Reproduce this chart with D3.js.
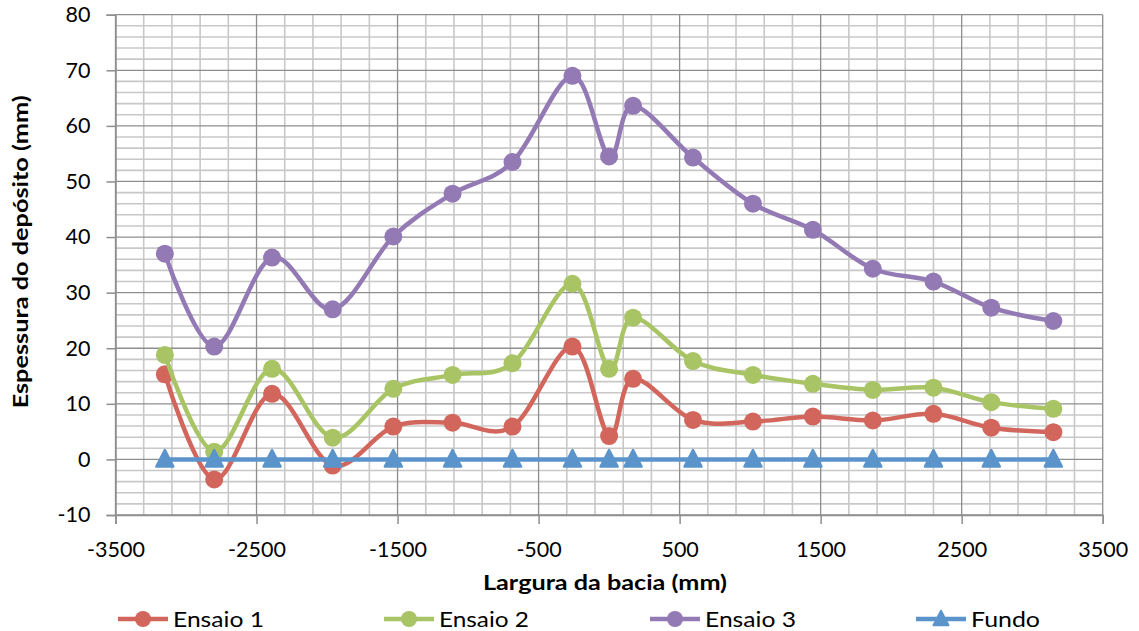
<!DOCTYPE html>
<html>
<head>
<meta charset="utf-8">
<script src="https://cdn.jsdelivr.net/npm/d3@7"></script>
<style>
  html, body { margin: 0; padding: 0; background: #fff; }
  svg { display: block; font-family: Lato, "Liberation Sans", sans-serif; }
</style>
</head>
<body>
<svg id="chart" width="1139" height="631"></svg>
<script>
// Horizontal positions across the basin (mm)
const positions = [-3150, -2800, -2390, -1960, -1530, -1110, -685, -260, 0, 170, 595, 1020, 1445, 1870, 2300, 2710, 3150];

// Deposit thickness per test (mm)
const ensaio1 = [15.3, -3.6, 11.8, -1.1, 5.9, 6.6, 5.9, 20.3, 4.2, 14.5, 7.1, 6.8, 7.7, 7.0, 8.2, 5.7, 4.9];
const ensaio2 = [18.8, 1.4, 16.3, 3.9, 12.7, 15.2, 17.3, 31.6, 16.3, 25.5, 17.7, 15.2, 13.6, 12.5, 12.9, 10.3, 9.1];
const ensaio3 = [37.0, 20.3, 36.3, 27.0, 40.1, 47.8, 53.5, 69.0, 54.5, 63.6, 54.3, 46.0, 41.3, 34.3, 32.0, 27.3, 24.9];
const fundo   = [0, 0, 0, 0, 0, 0, 0, 0, 0, 0, 0, 0, 0, 0, 0, 0, 0];

const seriesNames = ["Ensaio 1", "Ensaio 2", "Ensaio 3", "Fundo"];
const seriesColors = ["#D2665C", "#A8C464", "#937AB5", "#5B94CB"];
const seriesMarkers = ["circle", "circle", "circle", "triangle"];
const seriesValues = [ensaio1, ensaio2, ensaio3, fundo];

const xTicks = [-3500, -2500, -1500, -500, 500, 1500, 2500, 3500];
const yTicks = [-10, 0, 10, 20, 30, 40, 50, 60, 70, 80];

const xTitle = "Largura da bacia (mm)";
const yTitle = "Espessura do depósito (mm)";

const svg = d3.select("#chart");
const plot = { left: 115.5, right: 1102.7, top: 14.7, bottom: 515 };

const x = d3.scaleLinear().domain([-3500, 3500]).range([plot.left, plot.right]);
const y = d3.scaleLinear().domain([-10, 80]).range([plot.bottom, plot.top]);

// Minor grid
const g = svg.append("g");
g.selectAll("line.vminor")
  .data(d3.range(-3500, 3501, 200).filter(v => (v + 3500) % 1000 !== 0))
  .join("line")
  .attr("x1", d => x(d)).attr("x2", d => x(d))
  .attr("y1", plot.top).attr("y2", plot.bottom)
  .attr("stroke", "#c8c8c8").attr("stroke-width", 1.6);
g.selectAll("line.hminor")
  .data(d3.range(-10, 81, 2).filter(v => v % 10 !== 0))
  .join("line")
  .attr("x1", plot.left).attr("x2", plot.right)
  .attr("y1", d => y(d)).attr("y2", d => y(d))
  .attr("stroke", "#c8c8c8").attr("stroke-width", 1.6);

// Major grid
g.selectAll("line.vmajor")
  .data(xTicks)
  .join("line")
  .attr("x1", d => x(d)).attr("x2", d => x(d))
  .attr("y1", plot.top).attr("y2", plot.bottom)
  .attr("stroke", "#8e8e8e").attr("stroke-width", 1.3);
g.selectAll("line.hmajor")
  .data(yTicks)
  .join("line")
  .attr("x1", plot.left).attr("x2", plot.right)
  .attr("y1", d => y(d)).attr("y2", d => y(d))
  .attr("stroke", "#8e8e8e").attr("stroke-width", 1.3);

// Axes (plain hyphen for negative numbers)
const fmt = d => String(d);
const yAxis = d3.axisLeft(y).tickValues(yTicks).tickSize(9).tickPadding(16).tickFormat(fmt);
const xAxis = d3.axisBottom(x).tickValues(xTicks).tickSize(9).tickPadding(18).tickFormat(fmt);

const ya = svg.append("g").attr("transform", `translate(${plot.left},0)`).call(yAxis);
const xa = svg.append("g").attr("transform", `translate(0,${plot.bottom})`).call(xAxis);
[ya, xa].forEach(a => {
  a.select(".domain").attr("stroke", "#8e8e8e").attr("stroke-width", 1.5);
  a.selectAll(".tick line").attr("stroke", "#8e8e8e").attr("stroke-width", 1.5);
  a.selectAll(".tick text").attr("fill", "#000").attr("font-size", 21.5)
    .attr("font-family", "Lato, 'Liberation Sans', sans-serif");
});
xa.selectAll(".tick text").attr("dy", "0.71em");

// Series
const line = d3.line()
  .x((d, i) => x(positions[i]))
  .y(d => y(d))
  .curve(d3.curveCardinal.tension(0));

const triPath = (s) => `M0,${-s * 0.55} L${s * 0.5},${s * 0.42} L${-s * 0.5},${s * 0.42} Z`;

seriesValues.forEach((vals, k) => {
  const color = seriesColors[k];
  const sg = svg.append("g");
  sg.append("path")
    .datum(vals)
    .attr("d", line)
    .attr("fill", "none")
    .attr("stroke", color)
    .attr("stroke-width", 4.5)
    .attr("stroke-linejoin", "round")
    .attr("stroke-linecap", "round");
  if (seriesMarkers[k] === "circle") {
    sg.selectAll("circle")
      .data(vals)
      .join("circle")
      .attr("cx", (d, i) => x(positions[i]))
      .attr("cy", d => y(d))
      .attr("r", 9)
      .attr("fill", color);
  } else {
    sg.selectAll("path.tri")
      .data(vals)
      .join("path")
      .attr("class", "tri")
      .attr("transform", (d, i) => `translate(${x(positions[i])},${y(d)})`)
      .attr("d", triPath(17))
      .attr("fill", color)
      .attr("stroke", color)
      .attr("stroke-width", 2.5)
      .attr("stroke-linejoin", "round");
  }
});

// Axis titles
svg.append("text")
  .attr("x", 605)
  .attr("y", 582)
  .attr("dy", "0.35em")
  .attr("text-anchor", "middle")
  .attr("font-weight", "bold")
  .attr("font-size", 21.5)
  .attr("textLength", 244)
  .attr("lengthAdjust", "spacingAndGlyphs")
  .text(xTitle);

svg.append("text")
  .attr("transform", `translate(20,${(plot.top + plot.bottom) / 2 - 13}) rotate(-90)`)
  .attr("dy", "0.35em")
  .attr("text-anchor", "middle")
  .attr("font-weight", "bold")
  .attr("font-size", 21.5)
  .attr("textLength", 313)
  .attr("lengthAdjust", "spacingAndGlyphs")
  .text(yTitle);

// Legend
const legendX = [118, 384, 650, 916];
const legendTextW = [91, 90, 91, 69];
const legendY = 619;
const lg = svg.append("g");
seriesNames.forEach((name, k) => {
  const x0 = legendX[k];
  const color = seriesColors[k];
  lg.append("line")
    .attr("x1", x0).attr("x2", x0 + 50)
    .attr("y1", legendY).attr("y2", legendY)
    .attr("stroke", color).attr("stroke-width", 4.5);
  if (seriesMarkers[k] === "circle") {
    lg.append("circle").attr("cx", x0 + 25).attr("cy", legendY).attr("r", 8).attr("fill", color);
  } else {
    lg.append("path")
      .attr("transform", `translate(${x0 + 25},${legendY})`)
      .attr("d", triPath(15))
      .attr("fill", color).attr("stroke", color)
      .attr("stroke-width", 2).attr("stroke-linejoin", "round");
  }
  lg.append("text")
    .attr("x", x0 + 55)
    .attr("y", legendY)
    .attr("dy", "0.35em")
    .attr("font-size", 21.5)
    .attr("textLength", legendTextW[k])
    .attr("lengthAdjust", "spacingAndGlyphs")
    .text(name);
});
</script>
</body>
</html>
